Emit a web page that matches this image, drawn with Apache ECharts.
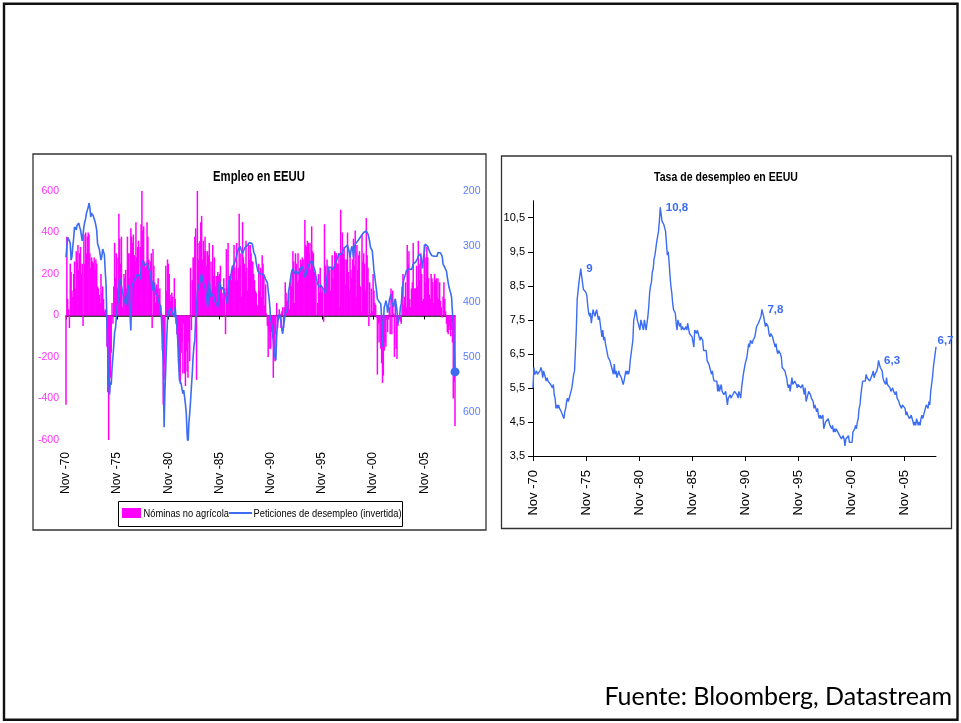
<!DOCTYPE html>
<html>
<head>
<meta charset="utf-8">
<script src="https://cdn.jsdelivr.net/npm/echarts@6/dist/echarts.min.js"></script>
<style>
  html, body { margin: 0; padding: 0; background: #fff; }
  #chart { width: 961px; height: 723px; }
</style>
</head>
<body>
<div id="chart"></div>
<script>
// Monthly series, Nov-1970 .. Nov-2008 (457 months)
const firstYear = 1970, firstMonth = 10; // zero-based month: November
const monthNames = ['Jan','Feb','Mar','Apr','May','Jun','Jul','Aug','Sep','Oct','Nov','Dec'];
const tickEvery = 60; // a labelled tick every five years

// Nóminas no agrícolas: monthly change, thousands
const payrolls = [
  -430, 380,
  80, 30, -60, 250, 210, 120, 90, 200, 260, 130, 310, 260,
  340, 220, 300, 330, 200, 250, -50, 390, 250, 400, 300, 380,
  400, 390, 300, 230, 280, 260, 250, 280, 220, 270, 250, 140,
  130, 100, 60, 200, 110, 140, 80, 20, 30, 0, -150, -370,
  -600, -370, -300, -180, 60, -40, 140, 350, 180, 300, 130, 280,
  490, 370, 250, 380, 40, 100, 200, 180, 220, 130, 380, 300,
  180, 300, 420, 380, 350, 390, 290, 260, 450, 280, 330, 360,
  180, 330, 440, 750, 410, 430, 260, 230, 240, 450, 380, 270,
  200, 260, 300, -60, 320, 240, 160, 60, 150, 130, 180, 100,
  130, 50, 10, -170, -430, -310, -240, 240, 120, 270, 250, 200,
  100, 70, 110, 90, 10, 180, 80, -40, -90, -90, -230, -270,
  -330, -180, -130, -280, -40, -280, -340, -170, -270, -300, -130, -220,
  230, -70, 170, 280, 280, 380, 420, -310, 1110, 270, 350, 360,
  450, 480, 270, 360, 310, 380, 310, 240, 310, 290, 350, 130,
  260, 120, 340, 190, 280, 140, 190, 190, 210, 190, 200, 240,
  130, 110, 80, 180, 130, -90, 320, 130, 350, 190, 190, 200,
  170, 240, 240, 340, 230, 170, 350, 170, 230, 490, 240, 300,
  90, 450, 280, 250, 210, 360, 230, 120, 340, 270, 340, 300,
  260, 260, 200, 170, 120, 110, 40, 50, 250, 120, 230, 90,
  290, 250, 200, 50, 150, 10, -50, -200, -80, -160, -160, -80,
  -110, -300, -200, -220, -90, 60, -60, -20, 30, 10, -60, 20,
  40, -60, 40, 160, 110, 70, 60, 110, 30, 160, 140, 220,
  310, 260, 60, 300, 250, 160, 300, 170, 230, 270, 250, 280,
  270, 220, 460, 340, 330, 360, 350, 300, 350, 220, 430, 310,
  300, 210, 210, 160, 0, 60, 200, 110, 230, 110, 140, 120,
  -30, 440, 240, 170, 270, 240, 230, 220, 120, 230, 290, 180,
  230, 310, 300, 300, 250, 250, 300, 40, 510, 300, 400, 300,
  330, 270, 150, 270, 400, 210, 120, 300, 220, 180, 270, 370,
  240, 410, 90, 340, 220, 290, 310, 140, 20, 390, 260, 300,
  250, 120, 470, 290, 230, -50, 160, 10, 130, 20, 200, 120,
  60, 50, -10, -285, -40, -130, -30, -160, -230, -325, -290, -170,
  -130, -150, -20, -80, -20, 40, -90, 130, -90, 120, 10, -200,
  80, -160, -210, -50, -20, -10, -30, -40, 140, 200, 50, 90,
  160, 40, 340, 250, 310, 80, 40, 130, 160, 350, 130, 130,
  130, 240, 140, 360, 170, 250, 300, 200, 70, 80, 340, 160,
  280, 330, 280, 180, 100, 80, 200, 180, 160, 60, 200, 170,
  180, 90, 180, 80, 160, 70, 40, -10, 90, 160, 80, 20,
  -40, -80, -90, -70, -50, -100, -70, -130, -400, -320, -533
];

// Peticiones de desempleo: initial claims, thousands (plotted on an inverted axis)
const claims = [
  320, 300,
  284, 286, 290, 295, 325, 318, 300, 285, 265, 262, 270, 262,
  262, 258, 265, 270, 280, 290, 292, 265, 256, 250, 240, 235,
  230, 222, 230, 247, 240, 238, 245, 250, 255, 262, 271, 295,
  300, 305, 315, 325, 318, 305, 302, 315, 345, 370, 442, 490,
  540, 568, 545, 550, 520, 500, 480, 455, 448, 430, 410, 400,
  375, 358, 365, 372, 380, 388, 395, 400, 406, 400, 385, 370,
  370, 420, 452, 375, 372, 365, 360, 358, 356, 352, 350, 350,
  352, 360, 340, 330, 326, 328, 335, 332, 332, 330, 335, 340,
  344, 350, 348, 380, 362, 365, 375, 386, 386, 390, 395, 398,
  398, 410, 434, 470, 512, 627, 560, 518, 470, 430, 422, 416,
  412, 410, 418, 422, 425, 428, 410, 430, 445, 470, 510, 542,
  545, 548, 558, 566, 560, 572, 585, 602, 640, 663, 620, 602,
  580, 554, 530, 500, 480, 470, 430, 410, 382, 375, 370, 365,
  356, 350, 360, 365, 374, 370, 385, 395, 410, 390, 362, 380,
  392, 395, 386, 390, 398, 400, 395, 405, 410, 380, 362, 370,
  378, 374, 372, 380, 384, 386, 395, 404, 385, 362, 365, 358,
  345, 338, 335, 332, 328, 326, 318, 310, 305, 302, 300, 298,
  310, 314, 308, 305, 302, 302, 300, 298, 295, 293, 292, 290,
  295, 300, 310, 314, 318, 330, 338, 345, 348, 350, 352, 350,
  350, 352, 350, 355, 360, 362, 365, 380, 392, 410, 434, 440,
  446, 470, 488, 500, 506, 460, 440, 430, 422, 425, 434, 450,
  458, 445, 434, 422, 415, 420, 405, 380, 372, 360, 350, 344,
  340, 345, 350, 348, 345, 342, 350, 348, 345, 340, 338, 336,
  340, 350, 356, 352, 345, 340, 335, 332, 330, 328, 326, 330,
  335, 338, 345, 355, 362, 368, 370, 374, 372, 370, 374, 374,
  374, 380, 386, 370, 355, 345, 338, 335, 336, 338, 338, 342,
  340, 345, 330, 326, 322, 318, 314, 316, 315, 314, 310, 312,
  308, 302, 300, 305, 298, 296, 310, 320, 308, 300, 305, 320,
  305, 296, 295, 292, 290, 288, 290, 285, 281, 280, 278, 275,
  278, 275, 272, 270, 278, 284, 292, 302, 305, 308, 325, 344,
  355, 368, 380, 395, 398, 400, 402, 404, 430, 482, 440, 410,
  405, 398, 405, 420, 410, 398, 392, 386, 400, 405, 410, 400,
  395, 405, 416, 440, 432, 428, 410, 404, 385, 368, 360, 355,
  350, 344, 342, 345, 341, 338, 340, 342, 338, 332, 335, 330,
  328, 326, 322, 318, 314, 315, 318, 320, 340, 320, 310, 296,
  298, 293, 300, 305, 308, 312, 315, 317, 318, 316, 318, 320,
  320, 318, 311, 310, 308, 312, 314, 318, 332, 330, 338, 340,
  345, 356, 365, 374, 375, 385, 392, 420, 434, 482, 527
];

// Tasa de desempleo, %
const unemployment = [
  5.5, 6.1,
  5.9, 5.9, 6.0, 5.9, 5.9, 5.9, 6.0, 6.1, 6.0, 5.8, 6.0, 6.0,
  5.8, 5.7, 5.8, 5.7, 5.7, 5.7, 5.6, 5.6, 5.5, 5.6, 5.3, 5.2,
  4.9, 5.0, 4.9, 5.0, 4.9, 4.9, 4.8, 4.8, 4.8, 4.6, 4.8, 4.9,
  5.1, 5.2, 5.1, 5.1, 5.1, 5.4, 5.5, 5.5, 5.9, 6.0, 6.6, 7.2,
  8.1, 8.1, 8.6, 8.8, 9.0, 8.8, 8.6, 8.4, 8.4, 8.4, 8.3, 8.2,
  7.9, 7.7, 7.6, 7.7, 7.4, 7.6, 7.8, 7.8, 7.6, 7.7, 7.8, 7.8,
  7.5, 7.6, 7.4, 7.2, 7.0, 7.2, 6.9, 7.0, 6.8, 6.8, 6.8, 6.4,
  6.4, 6.3, 6.3, 6.1, 6.0, 5.9, 6.2, 5.9, 6.0, 5.8, 5.9, 6.0,
  5.9, 5.9, 5.8, 5.8, 5.6, 5.7, 5.7, 6.0, 5.9, 6.0, 5.9, 6.0,
  6.3, 6.3, 6.3, 6.9, 7.5, 7.6, 7.8, 7.7, 7.5, 7.5, 7.5, 7.2,
  7.5, 7.4, 7.4, 7.2, 7.5, 7.5, 7.2, 7.4, 7.6, 7.9, 8.3, 8.5,
  8.6, 8.9, 9.0, 9.3, 9.4, 9.6, 9.8, 9.8, 10.1, 10.4, 10.8, 10.8,
  10.4, 10.4, 10.3, 10.2, 10.1, 10.1, 9.4, 9.5, 9.2, 8.8, 8.5, 8.3,
  8.0, 7.8, 7.8, 7.7, 7.4, 7.2, 7.5, 7.5, 7.3, 7.4, 7.2, 7.3,
  7.3, 7.2, 7.2, 7.3, 7.2, 7.4, 7.4, 7.1, 7.1, 7.1, 7.0, 7.0,
  6.7, 7.2, 7.2, 7.1, 7.2, 7.2, 7.0, 6.9, 7.0, 7.0, 6.9, 6.6,
  6.6, 6.6, 6.6, 6.3, 6.3, 6.2, 6.1, 6.0, 5.9, 6.0, 5.8, 5.7,
  5.7, 5.7, 5.7, 5.4, 5.6, 5.4, 5.4, 5.6, 5.4, 5.4, 5.3, 5.3,
  5.4, 5.2, 5.0, 5.2, 5.2, 5.3, 5.2, 5.2, 5.3, 5.3, 5.4, 5.4,
  5.4, 5.3, 5.2, 5.4, 5.4, 5.2, 5.5, 5.7, 5.9, 5.9, 6.2, 6.3,
  6.4, 6.6, 6.8, 6.7, 6.9, 6.9, 6.8, 6.9, 6.9, 7.0, 7.0, 7.3,
  7.3, 7.4, 7.4, 7.4, 7.6, 7.8, 7.7, 7.6, 7.6, 7.3, 7.4, 7.4,
  7.3, 7.1, 7.0, 7.1, 7.1, 7.0, 6.9, 6.8, 6.7, 6.8, 6.6, 6.5,
  6.6, 6.6, 6.5, 6.4, 6.1, 6.1, 6.1, 6.0, 5.9, 5.8, 5.6, 5.5,
  5.6, 5.4, 5.4, 5.8, 5.6, 5.6, 5.7, 5.7, 5.6, 5.5, 5.6, 5.6,
  5.6, 5.5, 5.5, 5.6, 5.6, 5.3, 5.5, 5.1, 5.2, 5.2, 5.4, 5.4,
  5.3, 5.2, 5.2, 5.1, 4.9, 5.0, 4.9, 4.8, 4.9, 4.7, 4.6, 4.7,
  4.6, 4.6, 4.7, 4.3, 4.4, 4.5, 4.5, 4.5, 4.6, 4.5, 4.4, 4.4,
  4.3, 4.4, 4.2, 4.3, 4.2, 4.3, 4.3, 4.2, 4.2, 4.1, 4.1, 4.0,
  4.0, 4.1, 4.0, 3.8, 4.0, 4.0, 4.0, 4.1, 3.9, 3.9, 3.9, 3.9,
  4.2, 4.2, 4.3, 4.4, 4.3, 4.5, 4.6, 4.9, 5.0, 5.3, 5.5, 5.7,
  5.7, 5.7, 5.7, 5.9, 5.8, 5.8, 5.8, 5.7, 5.7, 5.7, 5.9, 6.0,
  5.8, 5.9, 5.9, 6.0, 6.1, 6.3, 6.2, 6.1, 6.1, 6.0, 5.8, 5.7,
  5.7, 5.6, 5.8, 5.6, 5.6, 5.6, 5.5, 5.4, 5.4, 5.5, 5.4, 5.4,
  5.3, 5.4, 5.2, 5.2, 5.1, 5.0, 5.0, 4.9, 5.0, 5.0, 5.0, 4.9,
  4.7, 4.8, 4.7, 4.7, 4.6, 4.6, 4.7, 4.7, 4.5, 4.4, 4.5, 4.4,
  4.6, 4.5, 4.4, 4.5, 4.4, 4.6, 4.7, 4.6, 4.7, 4.7, 4.7, 5.0,
  5.0, 4.9, 5.1, 5.0, 5.4, 5.6, 5.8, 6.1, 6.1, 6.5, 6.7
];

// Months whose unemployment peaks carry a value label
const labelledMonths = [54, 144, 259, 391, 456];

// Axis tick values
const payrollTicks = [-600, -400, -200, 0, 200, 400, 600];
const claimTicks = [200, 300, 400, 500, 600];
const rateTicks = [3.5, 4.5, 5.5, 6.5, 7.5, 8.5, 9.5, 10.5];

// Series names shown in the legend
const payrollName = 'Nóminas no agrícola';
const claimName = 'Peticiones de desempleo (invertida)';

// Category labels such as "Nov -70"
const months = payrolls.map((_, i) => {
  const m = (firstMonth + i) % 12;
  const y = firstYear + Math.floor((firstMonth + i) / 12);
  return monthNames[m] + ' -' + String(y % 100).padStart(2, '0');
});

const SANS = '"Liberation Sans", Arial, sans-serif';
const BLUE = '#3b6cf2';
const MAGENTA = '#ff00ff';
const NARROW_SCALE = 0.81; // condenses Arial-metric text to a narrow face
const everyFive = (idx) => idx % tickEvery === 0;
const comma = (v) => (Number.isInteger(v) ? String(v) : v.toFixed(1).replace('.', ','));

const claimSeries = claims.map((v, i) => i === claims.length - 1
  ? { value: v, symbol: 'circle', symbolSize: 9, itemStyle: { color: BLUE } }
  : v);

const rateSeries = unemployment.map((v, i) => labelledMonths.includes(i)
  ? {
      value: v, symbol: 'circle', symbolSize: 1,
      label: {
        show: true, position: 'right',
        distance: i === unemployment.length - 1 ? 1 : 5,
        offset: i === unemployment.length - 1 ? [0, -6] : [0, 0],
        formatter: (p) => comma(p.value),
        color: BLUE, fontWeight: 'bold', fontSize: 11.5, fontFamily: SANS
      }
    }
  : v);

// Narrow text drawn as a graphic element, anchored at (x, y)
function narrowText(text, x, y, size, opts) {
  return Object.assign({
    type: 'text', silent: true, x: x, y: y, scaleX: NARROW_SCALE,
    style: { text: text, x: 0, y: 0, align: 'left', verticalAlign: 'middle',
      fontFamily: SANS, fontSize: size, fill: '#000' }
  }, opts || {});
}

const titleLeft = narrowText('Empleo en EEUU', 259, 177, 14);
titleLeft.style.align = 'center'; titleLeft.style.fontWeight = 'bold';
const titleRight = narrowText('Tasa de desempleo en EEUU', 726, 177, 13);
titleRight.style.align = 'center'; titleRight.style.fontWeight = 'bold';

const chart = echarts.init(document.getElementById('chart'), null, { renderer: 'canvas' });

chart.setOption({
  animation: false,
  backgroundColor: '#ffffff',
  graphic: [
    // page frame and chart panels
    { type: 'rect', silent: true, z: -10, shape: { x: 4, y: 3.7, width: 953.5, height: 716 },
      style: { fill: 'none', stroke: '#111', lineWidth: 2.4 } },
    { type: 'rect', silent: true, z: -10, shape: { x: 33, y: 154, width: 453, height: 376 },
      style: { fill: 'none', stroke: '#333', lineWidth: 1.3 } },
    { type: 'rect', silent: true, z: -10, shape: { x: 501.5, y: 156, width: 450, height: 372.5 },
      style: { fill: 'none', stroke: '#333', lineWidth: 1.3 } },
    titleLeft,
    titleRight,
    // legend of the employment chart
    { type: 'rect', silent: true, shape: { x: 118.5, y: 501.5, width: 284, height: 25 },
      style: { fill: '#fff', stroke: '#000', lineWidth: 1 } },
    { type: 'rect', silent: true, shape: { x: 122, y: 508, width: 19, height: 10 },
      style: { fill: MAGENTA } },
    narrowText(payrollName, 143.5, 513.5, 11.5),
    { type: 'line', silent: true, shape: { x1: 229, y1: 513, x2: 252, y2: 513 },
      style: { stroke: BLUE, lineWidth: 2 } },
    narrowText(claimName, 253.5, 513.5, 11.5),
    // source
    { type: 'text', silent: true, style: { text: 'Fuente: Bloomberg, Datastream', x: 952, y: 697,
      align: 'right', verticalAlign: 'middle', fontFamily: 'Lato, "Open Sans", sans-serif', fontSize: 25, fill: '#000' } }
  ],
  grid: [
    { left: 66, top: 191, width: 389, height: 249, containLabel: false },
    { left: 533, top: 200.7, width: 403, height: 255.3, containLabel: false }
  ],
  xAxis: [
    { gridIndex: 0, type: 'category', data: months, boundaryGap: false,
      axisLine: { onZero: true, lineStyle: { color: '#000', width: 1.5 } },
      axisTick: { interval: everyFive, length: 4, lineStyle: { color: '#000', width: 1 } },
      axisLabel: { show: false }, splitLine: { show: false } },
    { gridIndex: 0, type: 'category', data: months, boundaryGap: false, position: 'bottom',
      axisLine: { show: false, onZero: false }, axisTick: { show: false },
      axisLabel: { interval: everyFive, rotate: 90, margin: 12, padding: [7, 0, 0, 0],
        fontFamily: SANS, fontSize: 12, color: '#000' },
      splitLine: { show: false } },
    { gridIndex: 1, type: 'category', data: months, boundaryGap: false,
      axisLine: { lineStyle: { color: '#000', width: 1 } },
      axisTick: { interval: everyFive, length: 5, lineStyle: { color: '#000' } },
      axisLabel: { interval: everyFive, rotate: 90, margin: 14, padding: [6, 0, 0, 0],
        fontFamily: SANS, fontSize: 13, color: '#000' },
      splitLine: { show: false } }
  ],
  yAxis: [
    { gridIndex: 0, type: 'value', min: payrollTicks[0], max: payrollTicks[payrollTicks.length - 1], interval: 200,
      axisLine: { show: false }, axisTick: { show: false }, splitLine: { show: false },
      axisLabel: { margin: 7, color: '#ff33ff', fontFamily: SANS, fontSize: 10.5 } },
    { gridIndex: 0, type: 'value', position: 'right', inverse: true, min: 200, max: 650,
      axisLine: { show: false }, axisTick: { show: false }, splitLine: { show: false },
      axisLabel: { customValues: claimTicks, margin: 8, color: '#5a7dff', fontFamily: SANS, fontSize: 10.5 } },
    { gridIndex: 1, type: 'value', min: 3.5, max: 11,
      axisLine: { show: true, lineStyle: { color: '#000', width: 1 } },
      axisTick: { show: true, customValues: rateTicks, length: 5, lineStyle: { color: '#000' } },
      splitLine: { show: false },
      axisLabel: { customValues: rateTicks, formatter: (v) => comma(v), margin: 8,
        color: '#000', fontFamily: SANS, fontSize: 11 } }
  ],
  series: [
    { name: payrollName, type: 'bar', xAxisIndex: 0, yAxisIndex: 0,
      data: payrolls, barWidth: 1.5, clip: true, silent: true,
      itemStyle: { color: MAGENTA } },
    { name: claimName, type: 'line', xAxisIndex: 0, yAxisIndex: 1,
      data: claimSeries, symbol: 'none', showAllSymbol: true, silent: true,
      lineStyle: { color: BLUE, width: 1.6 }, itemStyle: { color: BLUE } },
    { name: 'Tasa de desempleo', type: 'line', xAxisIndex: 2, yAxisIndex: 2,
      data: rateSeries, symbol: 'none', showAllSymbol: true, silent: true,
      lineStyle: { color: BLUE, width: 1.4 }, itemStyle: { color: BLUE } }
  ]
});
</script>
</body>
</html>
